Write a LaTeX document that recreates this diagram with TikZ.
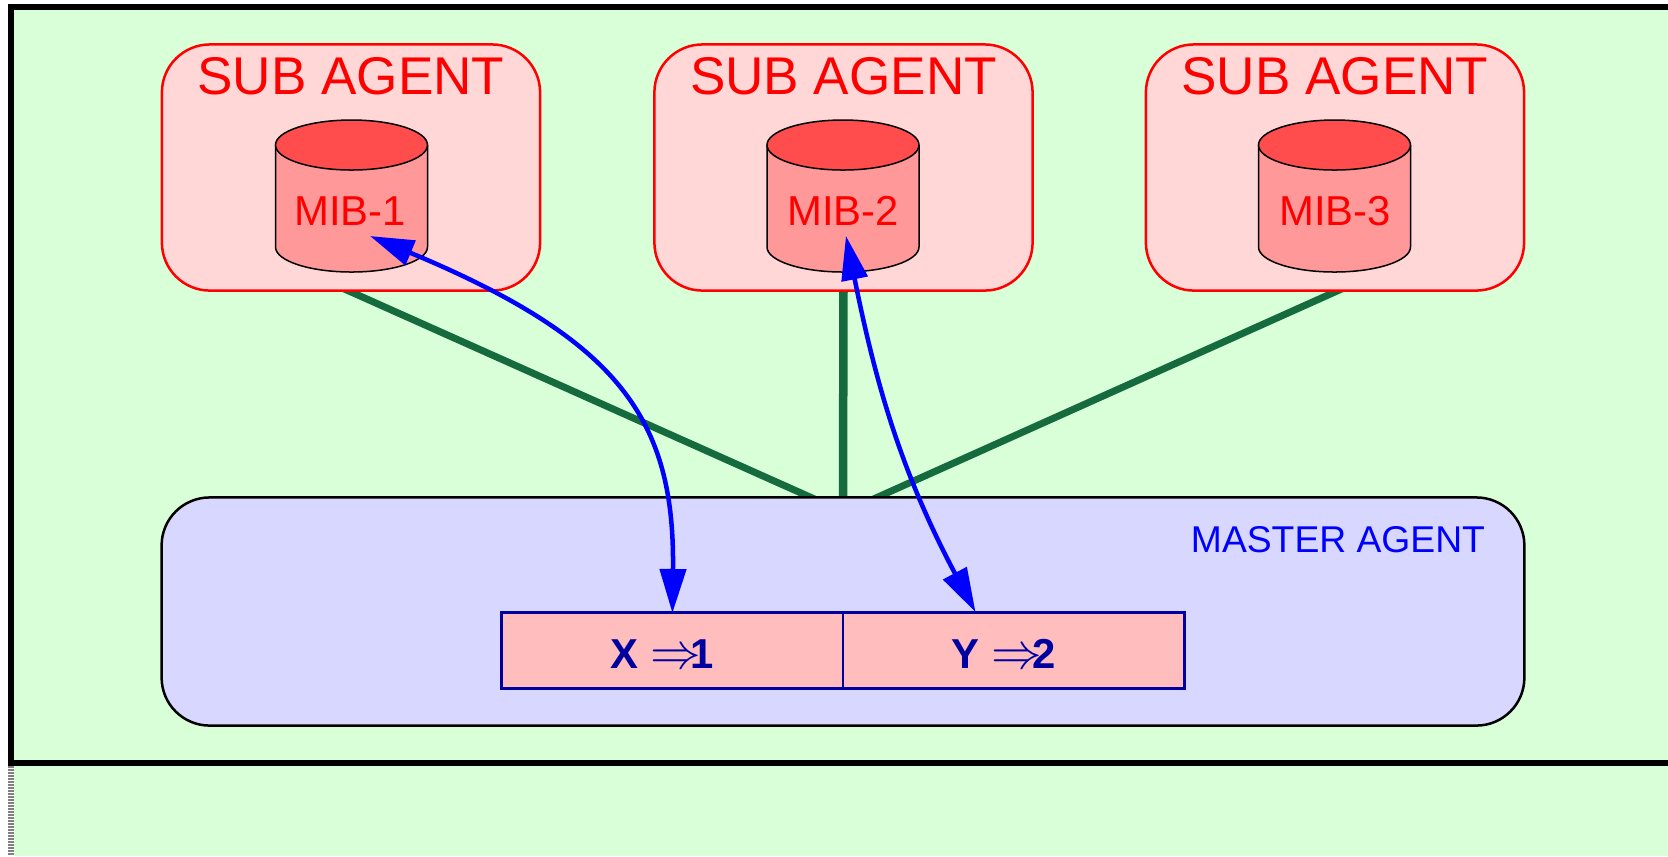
\documentclass[tikz,border=0pt]{standalone}
\usepackage{fontspec}
\setmainfont{Liberation Sans}
\usepackage{tikz}
\usetikzlibrary{arrows.meta,backgrounds}

\definecolor{bggreen}{HTML}{D9FFD9}
\definecolor{subpink}{HTML}{FFD7D7}
\definecolor{canbody}{HTML}{FF9999}
\definecolor{cantop}{HTML}{FF4D4D}
\definecolor{masterblue}{HTML}{D7D7FF}
\definecolor{slotpink}{HTML}{FFBDBD}
\definecolor{slotblue}{HTML}{0000A0}
\definecolor{linkgreen}{HTML}{156B3E}

\newcommand{\slotarrow}{{\fontsize{14.3}{14}\selectfont$\Rightarrow$}\kern-0.24em}

\tikzset{
  subagent/.style={draw=red, fill=subpink, line width=0.025cm, rounded corners=0.48cm, minimum width=3.78cm, minimum height=2.46cm, outer sep=0pt},
  subtitle/.style={text=red, font=\fontsize{15.1}{15}\selectfont},
  mibtext/.style={text=red, font=\fontsize{11.9}{12}\selectfont},
  can/.style={draw=black, line width=0.015cm},
  master/.style={draw=black, fill=masterblue, line width=0.025cm, rounded corners=0.48cm, minimum width=13.62cm, minimum height=2.28cm, outer sep=0pt},
  slot/.style={fill=slotpink, text=slotblue, font=\fontsize{11.9}{12}\selectfont\bfseries, minimum width=3.41cm, minimum height=0.75cm, text height=0.36cm, text depth=0pt, inner sep=0pt, outer sep=0pt},
  link/.style={draw=linkgreen, line width=0.07cm, shorten <=-0.06cm, shorten >=-0.06cm},
  mapping/.style={{Triangle[length=0.44cm,width=0.26cm]}-{Triangle[length=0.44cm,width=0.26cm]}, draw=blue, line width=0.045cm},
}

\begin{document}
\begin{tikzpicture}[x=0.01cm, y=-0.01cm]
   \useasboundingbox (0,0) rectangle (1668,856);

   % sub agents
   \node[subagent] (subone) at (351,167.5) {};
   \node[subagent] (subtwo) at (843.5,167.5) {};
   \node[subagent] (subthree) at (1335,167.5) {};
   \node[subtitle] (titleone) at (351,76) {SUB AGENT};
   \node[subtitle] (titletwo) at (843.5,76) {SUB AGENT};
   \node[subtitle] (titlethree) at (1335,76) {SUB AGENT};

   % mib cans
   \filldraw[can, fill=canbody] (275.5,145) -- (275.5,247) arc[start angle=180, end angle=0, x radius=76, y radius=25] -- (427.5,145);
   \filldraw[can, fill=cantop] (351.5,145) ellipse [x radius=76, y radius=25];
   \filldraw[can, fill=canbody] (767,145) -- (767,247) arc[start angle=180, end angle=0, x radius=76, y radius=25] -- (919,145);
   \filldraw[can, fill=cantop] (843,145) ellipse [x radius=76, y radius=25];
   \filldraw[can, fill=canbody] (1258.5,145) -- (1258.5,247) arc[start angle=180, end angle=0, x radius=76, y radius=25] -- (1410.5,145);
   \filldraw[can, fill=cantop] (1334.5,145) ellipse [x radius=76, y radius=25];
   \node[mibtext] (mibone) at (350,211) {MIB-1};
   \node[mibtext] (mibtwo) at (843,211) {MIB-2};
   \node[mibtext] (mibthree) at (1335,211) {MIB-3};

   % master agent
   \node[master] (masteragent) at (843,611.5) {};
   \node[text=blue, font=\fontsize{10.6}{11}\selectfont] (mastertitle) at (1338,540) {MASTER AGENT};
   \node[slot, anchor=east] (slotx) at (843,650.5) {X \slotarrow 1\kern0.2cm};
   \node[slot, anchor=west] (sloty) at (843,650.5) {Y \slotarrow 2\kern0.2cm};
   \draw[slotblue, line width=0.03cm] (slotx.north west) rectangle (sloty.south east);
   \draw[slotblue, line width=0.015cm] (slotx.north east) -- (slotx.south east);

   % background, frame and links
   \begin{scope}[on background layer]
     \fill[bggreen] (14,10) rectangle (1668,856);
     \draw[gray, line width=0.06cm, dash pattern=on 0.015cm off 0.015cm] (11,766) -- (11,856);
     \draw[black, line width=0.06cm] (1668,7) -- (11,7) -- (11,763) -- (1668,763);
     \draw[link] ([xshift=-0.03cm]subone.south) -- ([xshift=-0.32cm]masteragent.north);
     \draw[link, line width=0.085cm] (subtwo.south) -- (masteragent.north);
     \draw[link] ([xshift=0.03cm]subthree.south) -- ([xshift=0.34cm]masteragent.north);
   \end{scope}

   % lookups
   \coordinate (inone) at (370,236);
   \coordinate (intwo) at (846,236);
   \coordinate (outy) at (975.5,612);
   \draw[mapping] (inone) .. controls (620,340) and (675,420) .. (slotx.north);
   \draw[mapping] (intwo) .. controls (875,380) and (900,470) .. (outy);
\end{tikzpicture}
\end{document}
